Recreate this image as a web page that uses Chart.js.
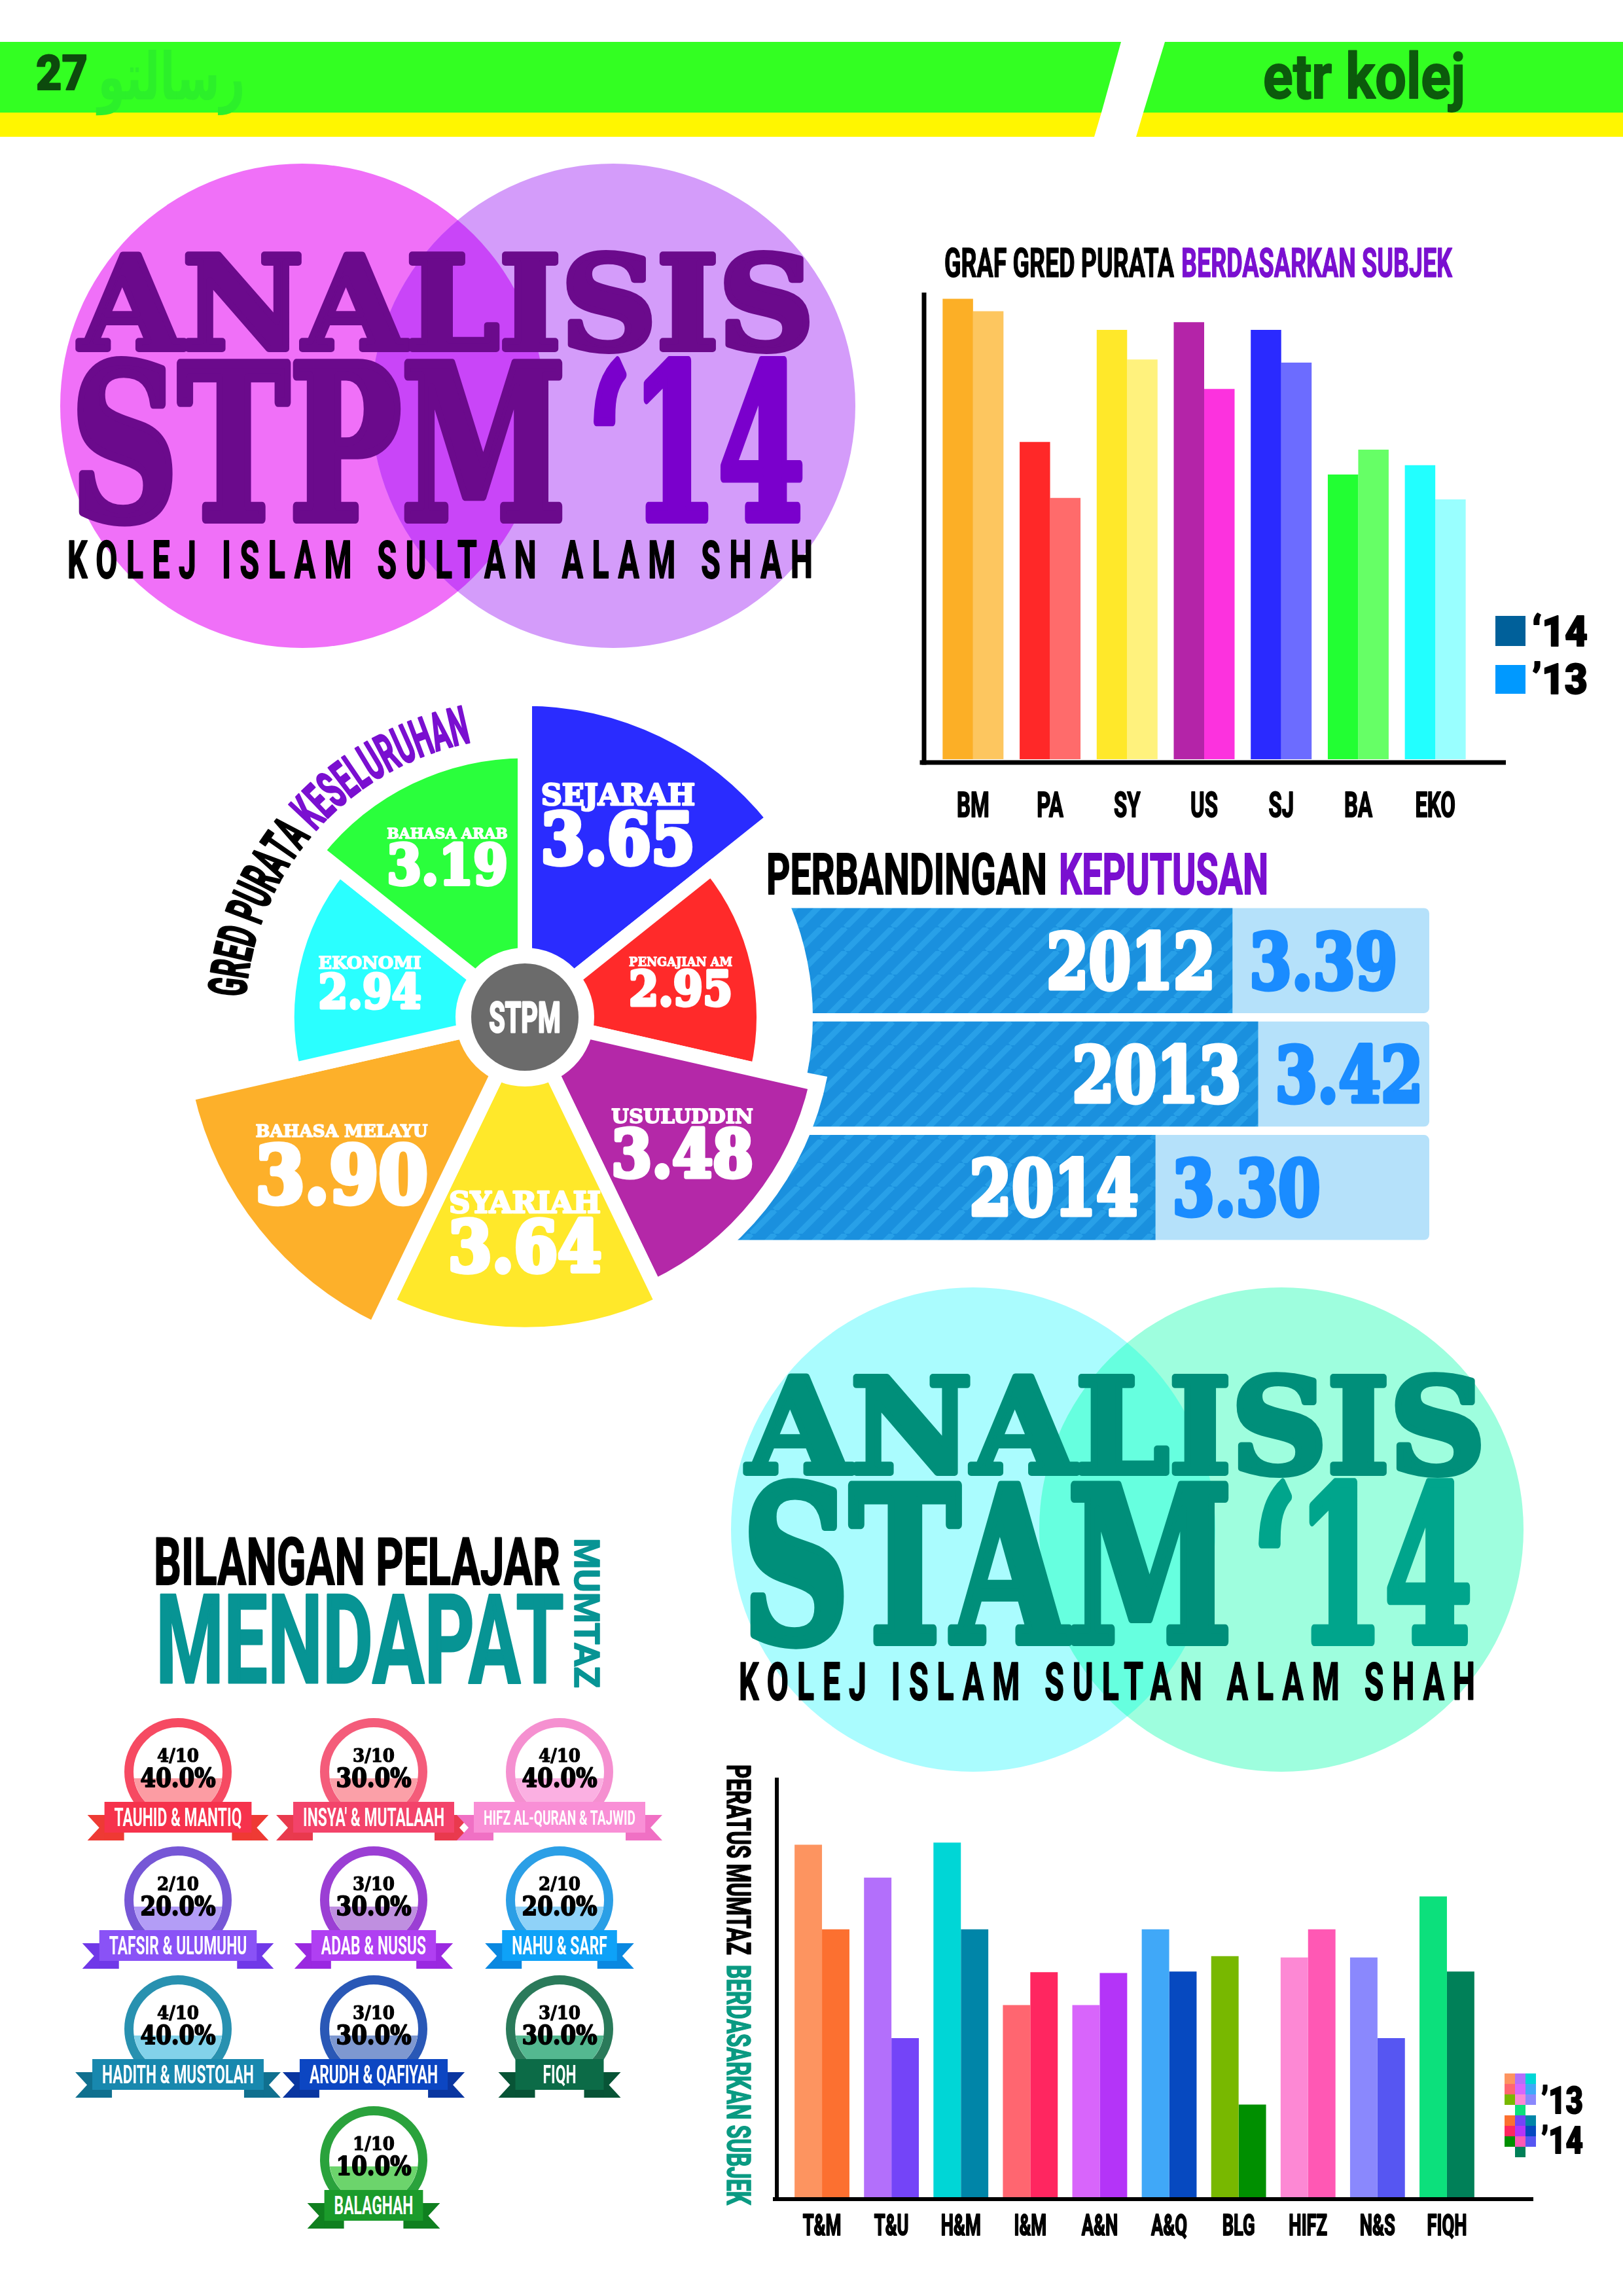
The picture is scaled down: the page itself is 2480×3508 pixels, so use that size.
<!DOCTYPE html>
<html>
<head>
<meta charset="utf-8">
<title>Analisis STPM & STAM '14</title>
<script src="https://cdn.jsdelivr.net/npm/chart.js@4.4.1/dist/chart.umd.min.js"></script>
<style>
  html, body { margin: 0; padding: 0; background: #fff; }
  #page { position: relative; width: 2480px; height: 3508px; overflow: hidden; background: #fff; }
  canvas { position: absolute; }
  #art { position: absolute; left: 0; top: 0; z-index: 5; pointer-events: none; }
</style>
</head>
<body>
<div id="page">
  <canvas id="gredChart" width="920" height="820" style="left:1400px;top:440px;z-index:1"></canvas>
  <canvas id="bandingChart" width="1144" height="520" style="left:1040px;top:1381px;z-index:1"></canvas>
  <canvas id="paiChart" width="1060" height="1060" style="left:272px;top:1024px;z-index:2"></canvas>
  <canvas id="mumtazChart" width="1250" height="760" style="left:1150px;top:2700px;z-index:1"></canvas>
  <svg id="art" width="2480" height="3508" xmlns="http://www.w3.org/2000/svg"></svg>
</div>
<script>
// ---- data ----
// graf gred purata berdasarkan subjek (STPM)
const subjekSTPM = ['BM', 'PA', 'SY', 'US', 'SJ', 'BA', 'EKO'];
const gred14 = [3.96, 3.04, 3.76, 3.81, 3.76, 2.83, 2.89];
const gred13 = [3.88, 2.68, 3.57, 3.38, 3.55, 2.99, 2.67];

// gred purata keseluruhan (ikut arah jam dari atas)
const subjekPenuh = ['SEJARAH', 'PENGAJIAN AM', 'USULUDDIN', 'SYARIAH', 'BAHASA MELAYU', 'EKONOMI', 'BAHASA ARAB'];
const gredKeseluruhan = [3.65, 2.95, 3.48, 3.64, 3.90, 2.94, 3.19];

// perbandingan keputusan
const tahun = ['2012', '2013', '2014'];
const gpk = [3.39, 3.42, 3.30];

// peratus mumtaz berdasarkan subjek (STAM)
const subjekSTAM = ['T&M', 'T&U', 'H&M', 'I&M', 'A&N', 'A&Q', 'BLG', 'HIFZ', 'N&S', 'FIQH'];
const mumtaz13 = [52.5, 47.6, 52.8, 28.6, 28.6, 39.9, 35.9, 35.7, 35.7, 44.8];
const mumtaz14 = [39.9, 23.7, 39.9, 33.5, 33.4, 33.6, 13.8, 39.9, 23.7, 33.6];

// bilangan pelajar mendapat mumtaz
const lencanaNama = ['TAUHID & MANTIQ', "INSYA' & MUTALAAH", 'HIFZ AL-QURAN & TAJWID', 'TAFSIR & ULUMUHU',
  'ADAB & NUSUS', 'NAHU & SARF', 'HADITH & MUSTOLAH', 'ARUDH & QAFIYAH', 'FIQH', 'BALAGHAH'];
const lencanaBil = [4, 3, 4, 2, 3, 2, 4, 3, 3, 1];
const lencanaJumlah = 10;

// ---- warna ----
const warnaSTPM14 = ['#fcaf26', '#ff2828', '#ffe82a', '#b424a8', '#2a2aff', '#22ff33', '#22ffff'];
const warnaSTPM13 = ['#fdc65f', '#ff6b6b', '#fff27d', '#fc32de', '#6c6cff', '#66ff66', '#99ffff'];
const warnaPai = ['#2a2cff', '#ff2a2a', '#b428a8', '#ffe82a', '#fdb02a', '#2affff', '#2aff3c'];
const warnaSTAM13 = ['#fd9460', '#b36ffb', '#00d6d6', '#ff6670', '#d865fb', '#40a8f8', '#78b800', '#fd88d4', '#8a88fd', '#0ce07c'];
const warnaSTAM14 = ['#fc7030', '#7444f8', '#0085a8', '#ff2660', '#b434f8', '#0649c0', '#008f00', '#ff58b4', '#5656f2', '#008058'];
const warnaLencana = [
  { cincin: '#f64a62', isi: '#fc9ca3', reben: '#f6324c', ekor: '#ee3a34' },
  { cincin: '#f45c7a', isi: '#fba0a8', reben: '#f3436a', ekor: '#e93a4e' },
  { cincin: '#f590d0', isi: '#fbb0e2', reben: '#f98fd6', ekor: '#f070c4' },
  { cincin: '#7657d6', isi: '#b39df6', reben: '#8a52f6', ekor: '#7038e8' },
  { cincin: '#9b3fd4', isi: '#bf8fe0', reben: '#b03ff2', ekor: '#9a28e0' },
  { cincin: '#2b9fe6', isi: '#8fd2f8', reben: '#0ea2f8', ekor: '#0a88e0' },
  { cincin: '#2891b0', isi: '#82d2ea', reben: '#1888ae', ekor: '#10708f' },
  { cincin: '#2a58b6', isi: '#7e98d0', reben: '#0c46c2', ekor: '#0a36a0' },
  { cincin: '#2a7a5a', isi: '#54b890', reben: '#0c6b47', ekor: '#085436' },
  { cincin: '#2aa23c', isi: '#6cd46c', reben: '#1b9b2b', ekor: '#108020' }
];

const SLAB = '"DejaVu Serif", serif';
const TEGAK = 'Roboto, "Liberation Sans", sans-serif';

// teks tebal: isi + garis luar warna sama
function teksTebal(ctx, t, x, y, tebal) {
  ctx.lineJoin = 'round';
  ctx.lineWidth = tebal;
  ctx.strokeStyle = ctx.fillStyle;
  ctx.strokeText(t, x, y);
  ctx.fillText(t, x, y);
}

// ---- paksi hitam + label bawah (untuk dua graf bar) ----
const paksiPlugin = {
  id: 'paksi',
  afterDraw(chart, args, o) {
    const { ctx, chartArea: a, scales: { x } } = chart;
    ctx.save();
    ctx.fillStyle = '#000';
    const vx = a.left - o.kiri - o.tebal / 2;
    ctx.fillRect(vx, a.top - o.atas, o.tebal, a.bottom + o.bawah + o.tebal / 2 - (a.top - o.atas));
    ctx.fillRect(vx - 3, a.bottom + o.bawah - o.tebal / 2, a.right + o.kanan - vx + 3, o.tebal);
    ctx.font = `bold ${o.fon}px ${TEGAK}`;
    ctx.textAlign = 'center';
    chart.data.labels.forEach((lab, i) => {
      ctx.save();
      ctx.translate(x.getPixelForTick(i), a.bottom + o.labelY);
      ctx.scale(0.62, 1);
      teksTebal(ctx, lab, 0, 0, 2);
      ctx.restore();
    });
    ctx.restore();
  }
};

new Chart(document.getElementById('gredChart'), {
  type: 'bar',
  data: {
    labels: subjekSTPM,
    datasets: [
      { label: "'14", data: gred14, backgroundColor: warnaSTPM14 },
      { label: "'13", data: gred13, backgroundColor: warnaSTPM13 }
    ]
  },
  options: {
    responsive: false,
    animation: false,
    layout: { padding: { left: 28, right: 68, top: 7, bottom: 100 } },
    datasets: { bar: { categoryPercentage: 0.79, barPercentage: 1.0 } },
    scales: { x: { display: false }, y: { display: false, min: 1, max: 4 } },
    plugins: {
      legend: { display: false }, tooltip: { enabled: false },
      paksi: { kiri: 16, atas: 0, bawah: 5, kanan: 49, tebal: 7, fon: 53, labelY: 88 }
    }
  },
  plugins: [paksiPlugin]
});

new Chart(document.getElementById('mumtazChart'), {
  type: 'bar',
  data: {
    labels: subjekSTAM,
    datasets: [
      { label: "'13", data: mumtaz13, backgroundColor: warnaSTAM13 },
      { label: "'14", data: mumtaz14, backgroundColor: warnaSTAM14 }
    ]
  },
  options: {
    responsive: false,
    animation: false,
    layout: { padding: { left: 53, right: 136, top: 21, bottom: 103 } },
    datasets: { bar: { categoryPercentage: 0.79, barPercentage: 1.0 } },
    scales: { x: { display: false }, y: { display: false, min: 0, max: 62 } },
    plugins: {
      legend: { display: false }, tooltip: { enabled: false },
      paksi: { kiri: 16, atas: 5, bawah: 3, kanan: 79, tebal: 6, fon: 44, labelY: 58 }
    }
  },
  plugins: [paksiPlugin]
});

// ---- perbandingan keputusan ----
const bandingCanvas = document.getElementById('bandingChart');
function corakJalur(ctxSasaran) {
  const c = document.createElement('canvas');
  c.width = c.height = 36;
  const g = c.getContext('2d');
  g.fillStyle = '#1a90de';
  g.fillRect(0, 0, 36, 36);
  g.strokeStyle = '#28a0e8';
  g.lineWidth = 9;
  for (let k = -36; k <= 36; k += 36) {
    g.beginPath(); g.moveTo(k, 36); g.lineTo(k + 36, 0); g.stroke();
  }
  return ctxSasaran.createPattern(c, 'repeat');
}

const bandingPlugin = {
  id: 'banding',
  beforeDatasetsDraw(chart) {
    const { ctx, chartArea: a } = chart;
    ctx.save();
    ctx.fillStyle = '#b5e1fa';
    chart.getDatasetMeta(0).data.forEach(bar => {
      const p = bar.getProps(['y', 'height'], true);
      ctx.beginPath();
      ctx.roundRect(a.left, p.y - p.height / 2, a.right - a.left, p.height, [0, 8, 8, 0]);
      ctx.fill();
    });
    ctx.restore();
  },
  afterDatasetsDraw(chart) {
    const { ctx } = chart;
    ctx.save();
    ctx.font = `bold 116px ${SLAB}`;
    chart.getDatasetMeta(0).data.forEach((bar, i) => {
      const p = bar.getProps(['x', 'y'], true);
      ctx.save();
      ctx.translate(p.x - 26, p.y + 42);
      ctx.scale(0.8, 1);
      ctx.textAlign = 'right';
      ctx.fillStyle = '#fff';
      teksTebal(ctx, tahun[i], 0, 0, 7);
      ctx.restore();
      ctx.save();
      ctx.translate(p.x + 26, p.y + 42);
      ctx.scale(0.8, 1);
      ctx.textAlign = 'left';
      ctx.fillStyle = '#1a8cff';
      teksTebal(ctx, gpk[i].toFixed(2), 0, 0, 7);
      ctx.restore();
    });
    ctx.restore();
  }
};

new Chart(bandingCanvas, {
  type: 'bar',
  data: { labels: tahun, datasets: [{ label: 'Gred purata', data: gpk, backgroundColor: corakJalur(bandingCanvas.getContext('2d')) }] },
  options: {
    indexAxis: 'y',
    responsive: false,
    animation: false,
    layout: { padding: 0 },
    datasets: { bar: { categoryPercentage: 1, barPercentage: 0.926 } },
    scales: { x: { display: false, min: 2.745, max: 3.62 }, y: { display: false } },
    plugins: { legend: { display: false }, tooltip: { enabled: false } }
  },
  plugins: [bandingPlugin]
});

// ---- gred purata keseluruhan (polar area) ----
function teksLengkung(ctx, cx, cy, r, mula, akhir, bahagian, fon) {
  ctx.save();
  ctx.font = fon;
  ctx.textAlign = 'center';
  const lebar = bahagian.map(b => [...b.t].map(ch => ctx.measureText(ch).width));
  const jumlah = lebar.flat().reduce((s, w) => s + w, 0);
  const sx = (akhir - mula) * r / jumlah;
  let sudut = mula;
  bahagian.forEach((b, bi) => {
    ctx.fillStyle = b.warna;
    [...b.t].forEach((ch, ci) => {
      const w = lebar[bi][ci] * sx;
      const a = sudut + w / 2 / r;
      ctx.save();
      ctx.translate(cx + r * Math.cos(a), cy + r * Math.sin(a));
      ctx.rotate(a + Math.PI / 2);
      ctx.scale(sx, 1);
      teksTebal(ctx, ch, 0, 0, 3);
      ctx.restore();
      sudut += w / r;
    });
  });
  ctx.restore();
}

const paiPlugin = {
  id: 'pai',
  beforeDatasetsDraw(chart) {
    const { ctx } = chart;
    const s = chart.scales.r;
    ctx.save();
    ctx.fillStyle = '#fff';
    ctx.beginPath();
    ctx.arc(s.xCenter, s.yCenter, 440, 0, Math.PI * 2);
    ctx.fill();
    chart.getDatasetMeta(0).data.forEach(arc => {
      const p = arc.getProps(['x', 'y', 'startAngle', 'endAngle', 'outerRadius'], true);
      ctx.beginPath();
      ctx.moveTo(p.x, p.y);
      ctx.arc(p.x, p.y, p.outerRadius + 14, p.startAngle - 0.03, p.endAngle + 0.03);
      ctx.closePath();
      ctx.fill();
    });
    ctx.restore();
  },
  afterDatasetsDraw(chart) {
    const { ctx } = chart;
    const s = chart.scales.r;
    const cx = s.xCenter, cy = s.yCenter;
    ctx.save();
    // bulatan tengah
    ctx.fillStyle = '#fff';
    ctx.beginPath(); ctx.arc(cx, cy, 106, 0, Math.PI * 2); ctx.fill();
    ctx.fillStyle = '#6b6b6b';
    ctx.beginPath(); ctx.arc(cx, cy, 82, 0, Math.PI * 2); ctx.fill();
    ctx.fillStyle = '#fff';
    ctx.font = `bold 64px ${TEGAK}`;
    ctx.textAlign = 'center';
    ctx.save(); ctx.translate(cx, cy + 23); ctx.scale(0.62, 1); teksTebal(ctx, 'STPM', 0, 0, 3); ctx.restore();

    // label dalam setiap segmen
    chart.getDatasetMeta(0).data.forEach((arc, i) => {
      const p = arc.getProps(['startAngle', 'endAngle', 'outerRadius'], true);
      const R = p.outerRadius - 11;
      const mid = (p.startAngle + p.endAngle) / 2;
      const ax = cx + 0.69 * R * Math.cos(mid), ay = cy + 0.69 * R * Math.sin(mid);
      const f = 0.29 * (R - 105);
      const nilai = gredKeseluruhan[i].toFixed(2);
      ctx.font = `bold ${f}px ${SLAB}`;
      const lebarNilai = ctx.measureText(nilai).width * 0.9;
      ctx.font = `bold 100px ${SLAB}`;
      let lf = 100 * lebarNilai / ctx.measureText(subjekPenuh[i]).width;
      lf = Math.min(lf, 0.42 * f);
      const tinggi = 0.73 * lf + 0.1 * f + 0.73 * f;
      const atas = ay - tinggi / 2;
      ctx.fillStyle = '#fff';
      ctx.font = `bold ${lf}px ${SLAB}`;
      teksTebal(ctx, subjekPenuh[i], ax, atas + 0.73 * lf, Math.max(1, lf * 0.06));
      ctx.font = `bold ${f}px ${SLAB}`;
      ctx.save(); ctx.translate(ax, atas + tinggi); ctx.scale(0.9, 1); teksTebal(ctx, nilai, 0, 0, f * 0.07); ctx.restore();
    });

    // tajuk melengkung
    teksLengkung(ctx, cx, cy, 428, 184 * Math.PI / 180, 259 * Math.PI / 180,
      [{ t: 'GRED PURATA ', warna: '#000' }, { t: 'KESELURUHAN', warna: '#7a0fd0' }],
      `bold 80px ${TEGAK}`);
    ctx.restore();
  }
};

new Chart(document.getElementById('paiChart'), {
  type: 'polarArea',
  data: {
    labels: subjekPenuh,
    datasets: [{ data: gredKeseluruhan, backgroundColor: warnaPai, borderColor: '#fff', borderWidth: 22, borderJoinStyle: 'miter' }]
  },
  options: {
    responsive: false,
    animation: false,
    layout: { padding: 0 },
    scales: {
      r: {
        min: 0.85, max: 3.9,
        ticks: { display: false }, grid: { display: false },
        angleLines: { display: false }, pointLabels: { display: false }
      }
    },
    plugins: { legend: { display: false }, tooltip: { enabled: false } }
  },
  plugins: [paiPlugin]
});

// ---- hiasan SVG: jalur kepala, tajuk, legenda, lencana ----
const NS = 'http://www.w3.org/2000/svg';
const svg = document.getElementById('art');
function el(tag, at, induk) {
  const e = document.createElementNS(NS, tag);
  for (const k in at) e.setAttribute(k, at[k]);
  (induk || svg).appendChild(e);
  return e;
}
function tulis(t, at, induk) {
  const e = el('text', at, induk);
  e.textContent = t;
  return e;
}
function tulisMuat(t, x, y, lebar, saiz, warna, fon, lain) {
  return tulis(t, Object.assign({
    x, y, 'font-size': saiz, fill: warna, 'font-family': fon, 'font-weight': 'bold',
    textLength: lebar, lengthAdjust: 'spacingAndGlyphs'
  }, lain || {}));
}
function tebal(w, warna) {
  return { stroke: warna, 'stroke-width': w, 'stroke-linejoin': 'round' };
}
function tulisJarang(t, x, y, lebar, saiz, warna) {
  const sx = 0.6;
  return tulis(t, Object.assign({
    x: 0, y: 0, transform: `translate(${x},${y}) scale(${sx},1)`, 'font-size': saiz, fill: warna,
    'font-family': TEGAK, 'font-weight': 'bold', textLength: lebar / sx, lengthAdjust: 'spacing'
  }, tebal(2, warna)));
}
const defs = el('defs', {});
function duaBulatan(id, c1, c2, r, w1, w2, wLap) {
  const cp = el('clipPath', { id }, defs);
  el('circle', { cx: c1[0], cy: c1[1], r }, cp);
  el('circle', { cx: c1[0], cy: c1[1], r, fill: w1 });
  el('circle', { cx: c2[0], cy: c2[1], r, fill: w2 });
  el('circle', { cx: c2[0], cy: c2[1], r, fill: wLap, 'clip-path': `url(#${id})` });
}

// jalur kepala
el('polygon', { points: '0,64 1713,64 1683,172 0,172', fill: '#33ff22' });
el('polygon', { points: '0,172 1683,172 1672,209 0,209', fill: '#fff600' });
el('polygon', { points: '1780,64 2480,64 2480,172 1747,172', fill: '#33ff22' });
el('polygon', { points: '1747,172 2480,172 2480,209 1736,209', fill: '#fff600' });
tulisMuat('27', 55, 137, 79, 74, '#0d4a0d', TEGAK, Object.assign({ 'font-weight': 900 }, tebal(2, '#0d4a0d')));
tulisMuat('رسالتو', 262, 152, 225, 100, '#2cf02a', '"DejaVu Sans", sans-serif', { 'text-anchor': 'middle' });
tulisMuat('etr kolej', 1930, 150, 309, 96, '#0c5a0c', TEGAK, tebal(2, '#0c5a0c'));

// ANALISIS STPM '14
duaBulatan('lapSTPM', [462, 620], [937, 620], 370, '#f070f8', '#d49cfa', '#c945f8');
tulisMuat('ANALISIS', 122, 533, 1122, 196, '#6b0a8c', SLAB, tebal(10, '#6b0a8c'));
tulisMuat('STPM', 108, 793, 757, 326, '#6b0a8c', SLAB, tebal(14, '#6b0a8c'));
tulisMuat('‘14', 898, 793, 332, 326, '#7a00cc', SLAB, tebal(14, '#7a00cc'));
tulisJarang('KOLEJ ISLAM SULTAN ALAM SHAH', 103, 883, 1139, 80, '#000');

// tajuk graf gred
tulisMuat('GRAF GRED PURATA', 1443, 423, 351, 62, '#000', TEGAK, tebal(1.5, '#000'));
tulisMuat('BERDASARKAN SUBJEK', 1805, 423, 414, 62, '#7a0fd0', TEGAK, tebal(1.5, '#7a0fd0'));
el('rect', { x: 2285, y: 941, width: 46, height: 46, fill: '#00609a' });
tulisMuat('‘14', 2341, 987, 85, 64, '#000', TEGAK, Object.assign({ 'font-weight': 900 }, tebal(2, '#000')));
el('rect', { x: 2285, y: 1016, width: 46, height: 44, fill: '#0099ff' });
tulisMuat('’13', 2341, 1060, 85, 64, '#000', TEGAK, Object.assign({ 'font-weight': 900 }, tebal(2, '#000')));

// perbandingan keputusan
tulisMuat('PERBANDINGAN', 1171, 1366, 429, 88, '#000', TEGAK, tebal(2, '#000'));
tulisMuat('KEPUTUSAN', 1618, 1366, 320, 88, '#7a0fd0', TEGAK, tebal(2, '#7a0fd0'));

// ANALISIS STAM '14
duaBulatan('lapSTAM', [1487, 2337], [1958, 2337], 370, '#aafcfe', '#9efede', '#66ffdf');
tulisMuat('ANALISIS', 1142, 2250, 1128, 200, '#008f7a', SLAB, tebal(10, '#008f7a'));
tulisMuat('STAM', 1134, 2508, 749, 327, '#008f7a', SLAB, tebal(14, '#008f7a'));
tulisMuat('‘14', 1914, 2508, 336, 327, '#00a58c', SLAB, tebal(14, '#00a58c'));
tulisJarang('KOLEJ ISLAM SULTAN ALAM SHAH', 1129, 2597, 1125, 80, '#000');

// tajuk menegak graf mumtaz
tulisMuat('PERATUS MUMTAZ', 0, 0, 291, 50, '#000', TEGAK, Object.assign({ transform: 'translate(1111,2696) rotate(90)' }, tebal(1.5, '#000')));
tulisMuat('BERDASARKAN SUBJEK', 0, 0, 367, 50, '#0a9a82', TEGAK, Object.assign({ transform: 'translate(1111,3002) rotate(90)' }, tebal(1.5, '#0a9a82')));

// legenda mozek
function mozek(x, y, warna) {
  const sel = 16;
  for (let k = 0; k < 9; k++) {
    el('rect', { x: x + (k % 3) * sel, y: y + Math.floor(k / 3) * sel, width: sel, height: sel, fill: warna[k] });
  }
  el('rect', { x: x + sel, y: y + 3 * sel, width: sel, height: sel, fill: warna[9] });
}
mozek(2299, 3168, warnaSTAM13);
tulisMuat('’13', 2355, 3229, 64, 58, '#000', TEGAK, Object.assign({ 'font-weight': 900 }, tebal(2, '#000')));
mozek(2299, 3232, warnaSTAM14);
tulisMuat('’14', 2355, 3290, 64, 58, '#000', TEGAK, Object.assign({ 'font-weight': 900 }, tebal(2, '#000')));

// bilangan pelajar mendapat mumtaz
tulisMuat('BILANGAN PELAJAR', 235, 2421, 621, 100, '#000', TEGAK, tebal(2, '#000'));
tulisMuat('MENDAPAT', 238, 2571, 624, 190, '#079494', TEGAK, tebal(3, '#079494'));
tulisMuat('MUMTAZ', 0, 0, 229, 54, '#079494', TEGAK, Object.assign({ transform: 'translate(878,2350) rotate(90)' }, tebal(1.5, '#079494')));

// lencana
const slotLencana = [[0, 0], [1, 0], [2, 0], [0, 1], [1, 1], [2, 1], [0, 2], [1, 2], [2, 2], [1, 3]];
const lajurX = [272, 571, 855];
const barisY = [2707, 2903, 3100, 3300];
lencanaNama.forEach((nama, i) => {
  const [c, b] = slotLencana[i];
  const cx = lajurX[c], cy = barisY[b];
  const w = warnaLencana[i];
  const g = el('g', {});
  el('circle', { cx, cy, r: 75, fill: '#fff', stroke: w.cincin, 'stroke-width': 14 }, g);
  const d = 10, ri = 68, hw = Math.sqrt(ri * ri - d * d);
  el('path', { d: `M${cx - hw} ${cy + d} A${ri} ${ri} 0 0 0 ${cx + hw} ${cy + d} Z`, fill: w.isi }, g);
  tulis(`${lencanaBil[i]}/${lencanaJumlah}`, Object.assign({
    x: cx, y: cy - 15, 'text-anchor': 'middle', 'font-family': SLAB, 'font-weight': 'bold',
    'font-size': 27, textLength: 64, lengthAdjust: 'spacingAndGlyphs', fill: '#000'
  }, tebal(1.2, '#000')), g);
  tulis((lencanaBil[i] / lencanaJumlah * 100).toFixed(1) + '%', Object.assign({
    x: cx, y: cy + 23, 'text-anchor': 'middle', 'font-family': SLAB, 'font-weight': 'bold',
    'font-size': 39, textLength: 115, lengthAdjust: 'spacingAndGlyphs', fill: '#000'
  }, tebal(2, '#000')), g);

  // reben
  const ry = cy + 46, rh = 47;
  const t = tulis(nama, { x: cx, y: 0, 'text-anchor': 'middle', 'font-family': TEGAK, 'font-weight': 'bold', 'font-size': 38, fill: '#fff' }, g);
  let L = t.getComputedTextLength() * 0.6, fs = 38;
  if (L > 232) { fs = 38 * 232 / L; L = 232; }
  t.setAttribute('font-size', fs.toFixed(1));
  t.setAttribute('textLength', L.toFixed(1));
  t.setAttribute('lengthAdjust', 'spacingAndGlyphs');
  t.setAttribute('y', (ry + rh / 2 + 0.711 * fs / 2).toFixed(1));
  const W = Math.max(L + 30, 135);
  const Lx = cx - W / 2, Rx = cx + W / 2;
  const ekor = [
    `${Lx - 26},${ry + 20} ${Lx + 30},${ry + 20} ${Lx + 30},${ry + 59} ${Lx - 26},${ry + 59} ${Lx - 8},${ry + 39.5}`,
    `${Rx + 26},${ry + 20} ${Rx - 30},${ry + 20} ${Rx - 30},${ry + 59} ${Rx + 26},${ry + 59} ${Rx + 8},${ry + 39.5}`
  ];
  ekor.forEach(pts => g.insertBefore(el('polygon', { points: pts, fill: w.ekor }, g), t));
  g.insertBefore(el('rect', { x: Lx, y: ry + rh, width: 28, height: 12, fill: w.ekor, opacity: 0.85 }, g), t);
  g.insertBefore(el('rect', { x: Rx - 28, y: ry + rh, width: 28, height: 12, fill: w.ekor, opacity: 0.85 }, g), t);
  g.insertBefore(el('rect', { x: Lx, y: ry, width: W, height: rh, fill: w.reben }, g), t);
});
</script>
</body>
</html>
